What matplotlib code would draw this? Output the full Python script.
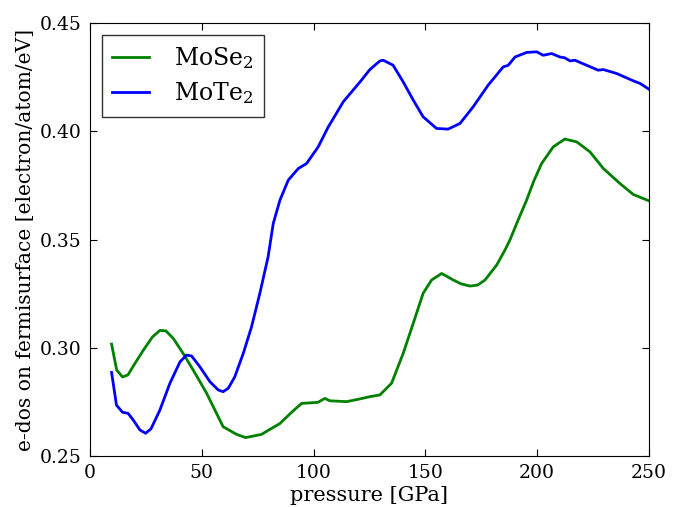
import matplotlib
matplotlib.use("Agg")
from matplotlib import pyplot as plt

plt.rcParams['font.family'] = 'DejaVu Serif'
plt.rcParams['mathtext.fontset'] = 'dejavuserif'

# MoSe2 e-dos
p_se = [9.7, 12, 14.6, 17, 20, 24, 28, 31.3, 34, 37.3, 41.7, 46.2, 52.2, 59.6, 65.6,
        69.6, 73, 76.8, 80, 85, 90, 94.7, 98, 102, 105.1, 107.3, 114.8, 120, 125.2,
        129.7, 134.9, 140.1, 144.6, 149, 152.8, 157.3, 162.5, 166, 170, 173.5, 176.7,
        181.9, 185.6, 187.8, 191.5, 195.3, 198.5, 202, 207.2, 212.4, 217.7, 223.6,
        229.6, 237, 243, 249.9]
dos_se = [0.3017, 0.2897, 0.2865, 0.2874, 0.2925, 0.2990, 0.3050, 0.3080, 0.3078,
          0.3043, 0.2974, 0.2897, 0.2790, 0.2635, 0.2600, 0.2585, 0.2592, 0.2600,
          0.2620, 0.2650, 0.2700, 0.2743, 0.2745, 0.2748, 0.2766, 0.2755, 0.2751,
          0.2762, 0.2774, 0.2782, 0.2836, 0.2974, 0.3113, 0.3251, 0.3313, 0.3343,
          0.3313, 0.3295, 0.3285, 0.3290, 0.3313, 0.3382, 0.3451, 0.3497, 0.3590,
          0.3682, 0.3770, 0.3851, 0.3928, 0.3964, 0.3951, 0.3905, 0.3828, 0.3759,
          0.3708, 0.3679]

# MoTe2 e-dos
p_te = [9.7, 11.9, 14.6, 17.1, 19.4, 22.4, 24.9, 27.3, 31.3, 35.8, 40.3, 43.2, 45.5,
        49.2, 53.7, 57.4, 59.6, 61.9, 64.8, 68.6, 72.3, 76, 79.7, 82, 85, 88.7, 93.2,
        96.9, 102.1, 106.6, 113.3, 120.8, 125.2, 129.7, 131.2, 135.6, 140.1, 144.6,
        149, 155, 160.2, 165.5, 171.4, 178.1, 184.8, 187.1, 190.1, 195.3, 199.8,
        202.7, 206.5, 210.2, 212.4, 214.7, 216.9, 222.1, 227.3, 229.6, 235.5, 243,
        246, 249.9]
dos_te = [0.2886, 0.2735, 0.2702, 0.2697, 0.2666, 0.2620, 0.2605, 0.2625, 0.2712,
          0.2836, 0.2935, 0.2966, 0.2962, 0.2912, 0.2843, 0.2805, 0.2797, 0.2813,
          0.2866, 0.2974, 0.3097, 0.3251, 0.3420, 0.3574, 0.3682, 0.3774, 0.3828,
          0.3851, 0.3928, 0.4020, 0.4136, 0.4228, 0.4285, 0.4325, 0.4328, 0.4305,
          0.4228, 0.4144, 0.4067, 0.4013, 0.4010, 0.4036, 0.4113, 0.4213, 0.4297,
          0.4305, 0.4343, 0.4364, 0.4367, 0.4351, 0.4359, 0.4343, 0.4339, 0.4325,
          0.4328, 0.4305, 0.4282, 0.4285, 0.4267, 0.4233, 0.4221, 0.4195]

fig = plt.figure(figsize=(6.86, 5.07), dpi=100)
ax = fig.add_axes([0.131, 0.1006, 0.815, 0.854])

ax.plot(p_se, dos_se, color='green', lw=2, label='MoSe$_2$')
ax.plot(p_te, dos_te, color='blue', lw=2, label='MoTe$_2$')

ax.set_xlim(0, 250)
ax.set_ylim(0.25, 0.45)
ax.set_xticks([0, 50, 100, 150, 200, 250])
ax.set_yticks([0.25, 0.30, 0.35, 0.40, 0.45])
ax.tick_params(direction='in', top=True, right=True, labelsize=13.5, length=5, pad=6)
ax.set_xlabel('pressure [GPa]', fontsize=15, labelpad=3)
ax.set_ylabel('e-dos on fermisurface [electron/atom/eV]', fontsize=14.6, labelpad=3)

leg = ax.legend(loc='upper left', fontsize=17, fancybox=False, handlelength=1.55,
                handletextpad=1.05, borderaxespad=0.5, borderpad=0.45,
                labelspacing=0.37)
leg.get_frame().set_edgecolor('black')

plt.savefig('out.png', dpi=100)
